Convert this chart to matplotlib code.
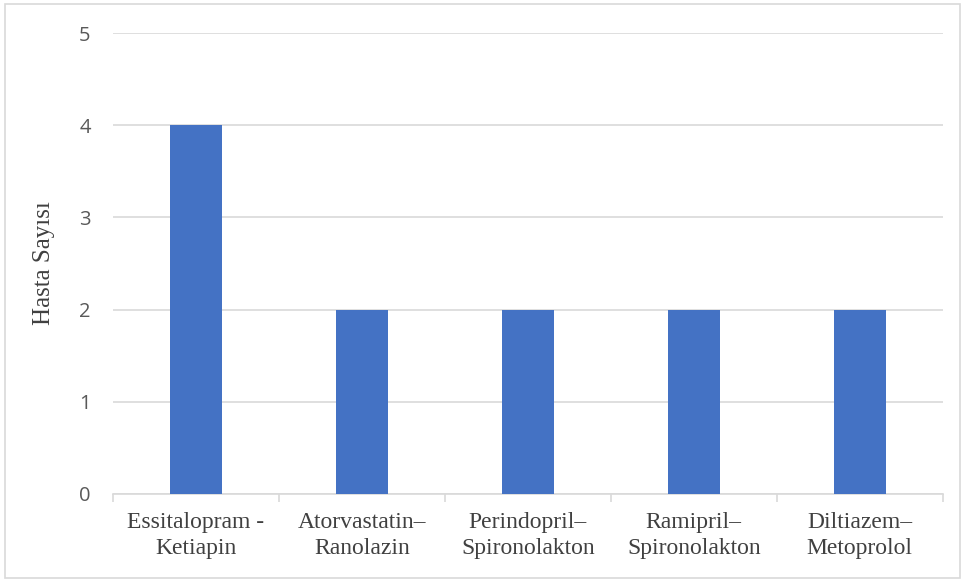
import numpy as np
import matplotlib.pyplot as plt
from matplotlib.patches import Rectangle

# veriler
ilaclar = ['Essitalopram -\nKetiapin', 'Atorvastatin–\nRanolazin', 'Perindopril–\nSpironolakton',
           'Ramipril–\nSpironolakton', 'Diltiazem–\nMetoprolol']
hasta_sayisi = [4, 2, 2, 2, 2]
y_ticks = [0, 1, 2, 3, 4, 5]

fig = plt.figure(figsize=(9.65, 5.81), dpi=100)
ax = fig.add_axes([0.117, 0.150, 0.860, 0.793])

x = np.arange(len(ilaclar))
ax.bar(x, hasta_sayisi, width=0.31, color='#4472C4', zorder=3)

ax.set_xlim(-0.5, len(ilaclar) - 0.5)
ax.set_ylim(0, 5)
ax.set_yticks(y_ticks)
ax.yaxis.grid(True, color='#d9d9d9', linewidth=1.2, zorder=0)
ax.tick_params(axis='y', length=0, pad=16, labelsize=14.5, labelcolor='#595959')
for t in ax.get_yticklabels():
    t.set_family('Open Sans')

# kategori aralarindaki tik cizgileri
ax.set_xticks(np.arange(-0.5, len(ilaclar)), minor=False)
ax.set_xticklabels([])
ax.set_xticks(x, minor=True)
ax.set_xticklabels(ilaclar, minor=True, family='Liberation Serif', fontsize=17,
                   color='#404040', linespacing=1.3)
ax.tick_params(axis='x', which='major', length=6, color='#d9d9d9', width=1.2)
ax.tick_params(axis='x', which='minor', length=0, pad=13)

for s in ['top', 'right', 'left']:
    ax.spines[s].set_visible(False)
ax.spines['bottom'].set_color('#d9d9d9')
ax.spines['bottom'].set_linewidth(1.2)

ax.set_ylabel('Hasta Sayısı', family='Liberation Serif', fontsize=18, color='#404040', labelpad=17)

# dis cerceve
fig.patches.append(Rectangle((0.005, 0.006), 0.99, 0.987, transform=fig.transFigure,
                             fill=False, edgecolor='#d9d9d9', linewidth=1.2))

fig.savefig('out.png', dpi=100)
